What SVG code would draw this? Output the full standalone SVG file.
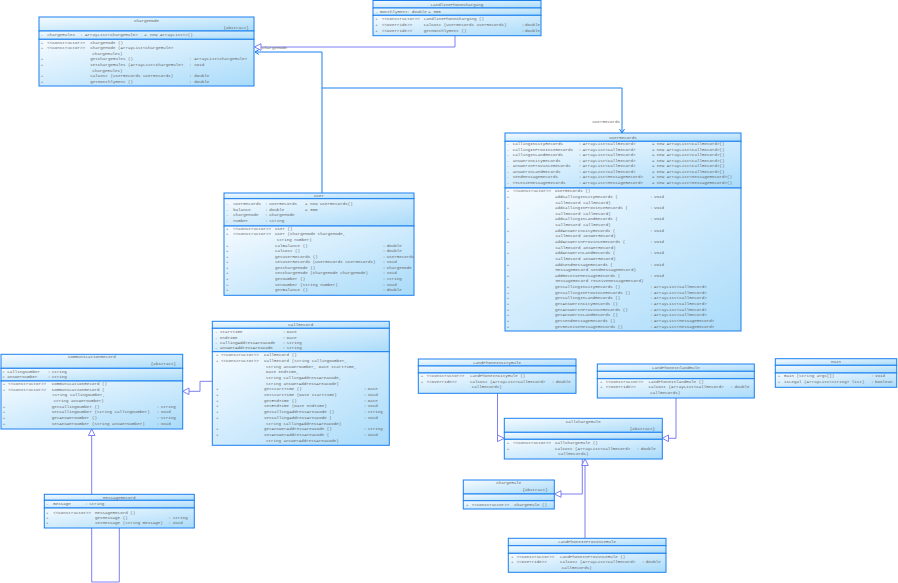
<svg xmlns="http://www.w3.org/2000/svg" width="898" height="583" viewBox="0 0 898 583">
<defs>
<linearGradient id="g" x1="0" y1="0" x2="1" y2="1"><stop offset="0" stop-color="#f6fbff"/><stop offset="1" stop-color="#a9dbfa"/></linearGradient>
</defs>
<style>
.b{fill:url(#g);stroke:#1a80f0;stroke-width:1}
.t{font-family:"Liberation Mono","DejaVu Sans Mono",monospace;font-size:4.2px;fill:#666}
.m{text-anchor:middle}
.e{text-anchor:end}
.gen{fill:none;stroke:#7f7ff5;stroke-width:1}
.tri{fill:#fff;stroke:#7f7ff5;stroke-width:1}
.as{fill:none;stroke:#1a80f0;stroke-width:1}
</style>
<rect width="898" height="583" fill="#fff"/>
<g id="connectors">
<polyline class="gen" points="455,35.7 455,47 261,47"/>
<polygon class="tri" points="254.5,47 261,43.7 261,50.3"/>
<polyline class="as" points="322,193 322,52 255,52"/>
<polyline class="as" points="259,49.5 255,52 259,54.5"/>
<text class="t" x="262" y="49">chargeMode</text>
<polyline class="as" points="322,88 622,88 622,133"/>
<polyline class="as" points="619.5,129 622,133 624.5,129"/>
<text class="t e" x="620" y="122.5">userRecords</text>
<polyline class="gen" points="212.3,381.3 200,381.3 200,391.3 189,391.3"/>
<polygon class="tri" points="182.7,391.3 189,388 189,394.6"/>
<polyline class="gen" points="119.3,528 119.3,582 91.7,582 91.7,435.5"/>
<polygon class="tri" points="91.7,429 88.4,435.5 95,435.5"/>
<polyline class="gen" points="497.5,393.3 497.5,438.3"/>
<polygon class="tri" points="504.3,438.3 497.5,435 497.5,441.6"/>
<polyline class="gen" points="676,398 676,438.3 668.5,438.3"/>
<polygon class="tri" points="662.3,438.3 668.5,435 668.5,441.6"/>
<polyline class="gen" points="582.3,459 582.3,494 561,494"/>
<polygon class="tri" points="554.3,494 561,490.7 561,497.3"/>
<polyline class="gen" points="585,538.3 585,465.5"/>
<polygon class="tri" points="585,459 581.7,465.5 588.3,465.5"/>
</g>
<g id="ChargeMode">
<rect class="b" x="39" y="17" width="215" height="14"/>
<rect class="b" x="39" y="31" width="215" height="8.3"/>
<rect class="b" x="39" y="39.3" width="215" height="46.7"/>
<text class="t m" x="146.5" y="22">ChargeMode</text>
<text class="t e" x="248.7" y="28.5">{abstract}</text>
<text class="t" y="36"><tspan x="40.7">-</tspan><tspan x="47.3">chargeRules</tspan><tspan x="80">:</tspan><tspan x="85">ArrayList&lt;ChargeRule&gt;</tspan><tspan x="144.3">=</tspan><tspan x="150">new ArrayList&lt;&gt;()</tspan></text>
<text class="t" y="43.8"><tspan x="40.7">+</tspan><tspan x="47.3">&lt;&lt;Constructor&gt;&gt;</tspan><tspan x="90.3">ChargeMode ()</tspan></text>
<text class="t" y="49.35"><tspan x="40.7">+</tspan><tspan x="47.3">&lt;&lt;Constructor&gt;&gt;</tspan><tspan x="90.3">ChargeMode (ArrayList&lt;ChargeRule&gt;</tspan></text>
<text class="t" y="54.9"><tspan x="92.3">chargeRules)</tspan></text>
<text class="t" y="60.45"><tspan x="40.7">+</tspan><tspan x="90.3">getChargeRules ()</tspan><tspan x="189">:</tspan><tspan x="194.3">ArrayList&lt;ChargeRule&gt;</tspan></text>
<text class="t" y="66"><tspan x="40.7">+</tspan><tspan x="90.3">setChargeRules (ArrayList&lt;ChargeRule&gt;</tspan><tspan x="189">:</tspan><tspan x="194.3">void</tspan></text>
<text class="t" y="71.55"><tspan x="92.3">chargeRules)</tspan></text>
<text class="t" y="77.1"><tspan x="40.7">+</tspan><tspan x="90.3">calCost (UserRecords userRecords)</tspan><tspan x="189">:</tspan><tspan x="194.3">double</tspan></text>
<text class="t" y="82.65"><tspan x="40.7">+</tspan><tspan x="90.3">getMonthlyRent ()</tspan><tspan x="189">:</tspan><tspan x="194.3">double</tspan></text>
</g>
<g id="LandlinePhoneCharging">
<rect class="b" x="373" y="0.5" width="168" height="7.5"/>
<rect class="b" x="373" y="8" width="168" height="7.3"/>
<rect class="b" x="373" y="15.3" width="168" height="20.4"/>
<text class="t m" x="457" y="5.6">LandlinePhoneCharging</text>
<text class="t" y="13.2"><tspan x="375.3">-</tspan><tspan x="380">monthlyRent</tspan><tspan x="407.3">:</tspan><tspan x="411.7">double</tspan><tspan x="428.3">=</tspan><tspan x="433.3">300</tspan></text>
<text class="t" y="20.2"><tspan x="375.3">+</tspan><tspan x="382">&lt;&lt;Constructor&gt;&gt;</tspan><tspan x="423.7">LandlinePhoneCharging ()</tspan></text>
<text class="t" y="25.8"><tspan x="375.3">+</tspan><tspan x="382">&lt;&lt;Override&gt;&gt;</tspan><tspan x="423.7">calCost (UserRecords userRecords)</tspan><tspan x="521.7">:</tspan><tspan x="525">double</tspan></text>
<text class="t" y="31.5"><tspan x="375.3">+</tspan><tspan x="382">&lt;&lt;Override&gt;&gt;</tspan><tspan x="423.7">getMonthlyRent ()</tspan><tspan x="521.7">:</tspan><tspan x="525">double</tspan></text>
</g>
<g id="UserRecords">
<rect class="b" x="505" y="133" width="236" height="8.3"/>
<rect class="b" x="505" y="141.3" width="236" height="46.7"/>
<rect class="b" x="505" y="188" width="236" height="143"/>
<text class="t m" x="623" y="138.8">UserRecords</text>
<text class="t" y="145.2"><tspan x="506.7">-</tspan><tspan x="512.7">callingInCityRecords</tspan><tspan x="578.7">:</tspan><tspan x="582.7">ArrayList&lt;CallRecord&gt;</tspan><tspan x="652">=</tspan><tspan x="656.7">new ArrayList&lt;CallRecord&gt;()</tspan></text>
<text class="t" y="150.7"><tspan x="506.7">-</tspan><tspan x="512.7">callingInProvinceRecords</tspan><tspan x="578.7">:</tspan><tspan x="582.7">ArrayList&lt;CallRecord&gt;</tspan><tspan x="652">=</tspan><tspan x="656.7">new ArrayList&lt;CallRecord&gt;()</tspan></text>
<text class="t" y="156.2"><tspan x="506.7">-</tspan><tspan x="512.7">callingInLandRecords</tspan><tspan x="578.7">:</tspan><tspan x="582.7">ArrayList&lt;CallRecord&gt;</tspan><tspan x="652">=</tspan><tspan x="656.7">new ArrayList&lt;CallRecord&gt;()</tspan></text>
<text class="t" y="161.7"><tspan x="506.7">-</tspan><tspan x="512.7">answerInCityRecords</tspan><tspan x="578.7">:</tspan><tspan x="582.7">ArrayList&lt;CallRecord&gt;</tspan><tspan x="652">=</tspan><tspan x="656.7">new ArrayList&lt;CallRecord&gt;()</tspan></text>
<text class="t" y="167.2"><tspan x="506.7">-</tspan><tspan x="512.7">answerInProvinceRecords</tspan><tspan x="578.7">:</tspan><tspan x="582.7">ArrayList&lt;CallRecord&gt;</tspan><tspan x="652">=</tspan><tspan x="656.7">new ArrayList&lt;CallRecord&gt;()</tspan></text>
<text class="t" y="172.7"><tspan x="506.7">-</tspan><tspan x="512.7">answerInLandRecords</tspan><tspan x="578.7">:</tspan><tspan x="582.7">ArrayList&lt;CallRecord&gt;</tspan><tspan x="652">=</tspan><tspan x="656.7">new ArrayList&lt;CallRecord&gt;()</tspan></text>
<text class="t" y="178.2"><tspan x="506.7">-</tspan><tspan x="512.7">sendMessageRecords</tspan><tspan x="578.7">:</tspan><tspan x="582.7">ArrayList&lt;MessageRecord&gt;</tspan><tspan x="652">=</tspan><tspan x="656.7">new ArrayList&lt;MessageRecord&gt;()</tspan></text>
<text class="t" y="183.7"><tspan x="506.7">-</tspan><tspan x="512.7">receiveMessageRecords</tspan><tspan x="578.7">:</tspan><tspan x="582.7">ArrayList&lt;MessageRecord&gt;</tspan><tspan x="652">=</tspan><tspan x="656.7">new ArrayList&lt;MessageRecord&gt;()</tspan></text>
<text class="t" y="192.2"><tspan x="506.7">+</tspan><tspan x="513.3">&lt;&lt;Constructor&gt;&gt;</tspan><tspan x="555">UserRecords ()</tspan></text>
<text class="t" y="197.8"><tspan x="506.7">+</tspan><tspan x="555">addCallingInCityRecords (</tspan><tspan x="650">:</tspan><tspan x="654">void</tspan></text>
<text class="t" y="203.5"><tspan x="555.5">CallRecord callRecord)</tspan></text>
<text class="t" y="209.1"><tspan x="506.7">+</tspan><tspan x="555">addCallingInProvinceRecords (</tspan><tspan x="650">:</tspan><tspan x="654">void</tspan></text>
<text class="t" y="214.8"><tspan x="555.5">CallRecord callRecord)</tspan></text>
<text class="t" y="220.4"><tspan x="506.7">+</tspan><tspan x="555">addCallingInLandRecords (</tspan><tspan x="650">:</tspan><tspan x="654">void</tspan></text>
<text class="t" y="226"><tspan x="555.5">CallRecord callRecord)</tspan></text>
<text class="t" y="231.7"><tspan x="506.7">+</tspan><tspan x="555">addAnswerInCityRecords (</tspan><tspan x="650">:</tspan><tspan x="654">void</tspan></text>
<text class="t" y="237.3"><tspan x="555.5">CallRecord answerRecord)</tspan></text>
<text class="t" y="243"><tspan x="506.7">+</tspan><tspan x="555">addAnswerInProvinceRecords (</tspan><tspan x="650">:</tspan><tspan x="654">void</tspan></text>
<text class="t" y="248.6"><tspan x="555.5">CallRecord answerRecord)</tspan></text>
<text class="t" y="254.2"><tspan x="506.7">+</tspan><tspan x="555">addAnswerInLandRecords (</tspan><tspan x="650">:</tspan><tspan x="654">void</tspan></text>
<text class="t" y="259.9"><tspan x="555.5">CallRecord answerRecord)</tspan></text>
<text class="t" y="265.5"><tspan x="506.7">+</tspan><tspan x="555">addSendMessageRecords (</tspan><tspan x="650">:</tspan><tspan x="654">void</tspan></text>
<text class="t" y="271.2"><tspan x="555.5">MessageRecord sendMessageRecord)</tspan></text>
<text class="t" y="276.8"><tspan x="506.7">+</tspan><tspan x="555">addReceiveMessageRecords (</tspan><tspan x="650">:</tspan><tspan x="654">void</tspan></text>
<text class="t" y="282.4"><tspan x="555.5">MessageRecord receiveMessageRecord)</tspan></text>
<text class="t" y="288.1"><tspan x="506.7">+</tspan><tspan x="555">getCallingInCityRecords ()</tspan><tspan x="650">:</tspan><tspan x="654">ArrayList&lt;CallRecord&gt;</tspan></text>
<text class="t" y="293.7"><tspan x="506.7">+</tspan><tspan x="555">getCallingInProvinceRecords ()</tspan><tspan x="650">:</tspan><tspan x="654">ArrayList&lt;CallRecord&gt;</tspan></text>
<text class="t" y="299.4"><tspan x="506.7">+</tspan><tspan x="555">getCallingInLandRecords ()</tspan><tspan x="650">:</tspan><tspan x="654">ArrayList&lt;CallRecord&gt;</tspan></text>
<text class="t" y="305"><tspan x="506.7">+</tspan><tspan x="555">getAnswerInCityRecords ()</tspan><tspan x="650">:</tspan><tspan x="654">ArrayList&lt;CallRecord&gt;</tspan></text>
<text class="t" y="310.6"><tspan x="506.7">+</tspan><tspan x="555">getAnswerInProvinceRecords ()</tspan><tspan x="650">:</tspan><tspan x="654">ArrayList&lt;CallRecord&gt;</tspan></text>
<text class="t" y="316.3"><tspan x="506.7">+</tspan><tspan x="555">getAnswerInLandRecords ()</tspan><tspan x="650">:</tspan><tspan x="654">ArrayList&lt;CallRecord&gt;</tspan></text>
<text class="t" y="321.9"><tspan x="506.7">+</tspan><tspan x="555">getSendMessageRecords ()</tspan><tspan x="650">:</tspan><tspan x="654">ArrayList&lt;MessageRecord&gt;</tspan></text>
<text class="t" y="327.6"><tspan x="506.7">+</tspan><tspan x="555">getReceiveMessageRecords ()</tspan><tspan x="650">:</tspan><tspan x="654">ArrayList&lt;MessageRecord&gt;</tspan></text>
</g>
<g id="User">
<rect class="b" x="224" y="193" width="190" height="5.7"/>
<rect class="b" x="224" y="198.7" width="190" height="27.3"/>
<rect class="b" x="224" y="226" width="190" height="69.3"/>
<text class="t m" x="319" y="197.4">User</text>
<text class="t" y="205.2"><tspan x="226">-</tspan><tspan x="233.3">userRecords</tspan><tspan x="265">:</tspan><tspan x="269.3">UserRecords</tspan><tspan x="305">=</tspan><tspan x="310">new UserRecords()</tspan></text>
<text class="t" y="210.6"><tspan x="226">-</tspan><tspan x="233.3">balance</tspan><tspan x="265">:</tspan><tspan x="269.3">double</tspan><tspan x="305">=</tspan><tspan x="310">300</tspan></text>
<text class="t" y="216.1"><tspan x="226">-</tspan><tspan x="233.3">chargeMode</tspan><tspan x="265">:</tspan><tspan x="269.3">ChargeMode</tspan></text>
<text class="t" y="221.7"><tspan x="226">-</tspan><tspan x="233.3">number</tspan><tspan x="265">:</tspan><tspan x="269.3">String</tspan></text>
<text class="t" y="229.8"><tspan x="226">+</tspan><tspan x="233.3">&lt;&lt;Constructor&gt;&gt;</tspan><tspan x="275">User ()</tspan></text>
<text class="t" y="235.4"><tspan x="226">+</tspan><tspan x="233.3">&lt;&lt;Constructor&gt;&gt;</tspan><tspan x="275">User (ChargeMode chargeMode,</tspan></text>
<text class="t" y="241"><tspan x="276.7">String number)</tspan></text>
<text class="t" y="246.5"><tspan x="226">+</tspan><tspan x="275">calBalance ()</tspan><tspan x="382.7">:</tspan><tspan x="386.7">double</tspan></text>
<text class="t" y="252.1"><tspan x="226">+</tspan><tspan x="275">calCost ()</tspan><tspan x="382.7">:</tspan><tspan x="386.7">double</tspan></text>
<text class="t" y="257.7"><tspan x="226">+</tspan><tspan x="275">getUserRecords ()</tspan><tspan x="382.7">:</tspan><tspan x="386.7">UserRecords</tspan></text>
<text class="t" y="263.3"><tspan x="226">+</tspan><tspan x="275">setUserRecords (UserRecords userRecords)</tspan><tspan x="382.7">:</tspan><tspan x="386.7">void</tspan></text>
<text class="t" y="268.9"><tspan x="226">+</tspan><tspan x="275">getChargeMode ()</tspan><tspan x="382.7">:</tspan><tspan x="386.7">ChargeMode</tspan></text>
<text class="t" y="274.4"><tspan x="226">+</tspan><tspan x="275">setChargeMode (ChargeMode chargeMode)</tspan><tspan x="382.7">:</tspan><tspan x="386.7">void</tspan></text>
<text class="t" y="280"><tspan x="226">+</tspan><tspan x="275">getNumber ()</tspan><tspan x="382.7">:</tspan><tspan x="386.7">String</tspan></text>
<text class="t" y="285.6"><tspan x="226">+</tspan><tspan x="275">setNumber (String number)</tspan><tspan x="382.7">:</tspan><tspan x="386.7">void</tspan></text>
<text class="t" y="291.2"><tspan x="226">+</tspan><tspan x="275">getBalance ()</tspan><tspan x="382.7">:</tspan><tspan x="386.7">double</tspan></text>
</g>
<g id="CallRecord">
<rect class="b" x="212.3" y="321.3" width="177" height="7"/>
<rect class="b" x="212.3" y="328.3" width="177" height="23.4"/>
<rect class="b" x="212.3" y="351.7" width="177" height="93.6"/>
<text class="t m" x="300.8" y="326.3">CallRecord</text>
<text class="t" y="333.2"><tspan x="215">-</tspan><tspan x="220">startTime</tspan><tspan x="282.7">:</tspan><tspan x="286.7">Date</tspan></text>
<text class="t" y="338.5"><tspan x="215">-</tspan><tspan x="220">endTime</tspan><tspan x="282.7">:</tspan><tspan x="286.7">Date</tspan></text>
<text class="t" y="343.8"><tspan x="215">-</tspan><tspan x="220">callingAddressAreaCode</tspan><tspan x="282.7">:</tspan><tspan x="286.7">String</tspan></text>
<text class="t" y="349.3"><tspan x="215">-</tspan><tspan x="220">answerAddressAreaCode</tspan><tspan x="282.7">:</tspan><tspan x="286.7">String</tspan></text>
<text class="t" y="356.2"><tspan x="216">+</tspan><tspan x="221">&lt;&lt;Constructor&gt;&gt;</tspan><tspan x="264">CallRecord ()</tspan></text>
<text class="t" y="361.9"><tspan x="216">+</tspan><tspan x="221">&lt;&lt;Constructor&gt;&gt;</tspan><tspan x="264">CallRecord (String callingNumber,</tspan></text>
<text class="t" y="367.6"><tspan x="266">String answerNumber, Date startTime,</tspan></text>
<text class="t" y="373.3"><tspan x="266">Date endTime,</tspan></text>
<text class="t" y="379"><tspan x="266">String callingAddressAreaCode,</tspan></text>
<text class="t" y="384.7"><tspan x="266">String answerAddressAreaCode)</tspan></text>
<text class="t" y="390.3"><tspan x="216">+</tspan><tspan x="264">getStartTime ()</tspan><tspan x="363.7">:</tspan><tspan x="367.7">Date</tspan></text>
<text class="t" y="396"><tspan x="216">+</tspan><tspan x="264">setStartTime (Date startTime)</tspan><tspan x="363.7">:</tspan><tspan x="367.7">void</tspan></text>
<text class="t" y="401.7"><tspan x="216">+</tspan><tspan x="264">getEndTime ()</tspan><tspan x="363.7">:</tspan><tspan x="367.7">Date</tspan></text>
<text class="t" y="407.4"><tspan x="216">+</tspan><tspan x="264">setEndTime (Date endTime)</tspan><tspan x="363.7">:</tspan><tspan x="367.7">void</tspan></text>
<text class="t" y="413.1"><tspan x="216">+</tspan><tspan x="264">getCallingAddressAreaCode ()</tspan><tspan x="363.7">:</tspan><tspan x="367.7">String</tspan></text>
<text class="t" y="418.8"><tspan x="216">+</tspan><tspan x="264">setCallingAddressAreaCode (</tspan><tspan x="363.7">:</tspan><tspan x="367.7">void</tspan></text>
<text class="t" y="424.5"><tspan x="266">String callingAddressAreaCode)</tspan></text>
<text class="t" y="430.2"><tspan x="216">+</tspan><tspan x="264">getAnswerAddressAreaCode ()</tspan><tspan x="363.7">:</tspan><tspan x="367.7">String</tspan></text>
<text class="t" y="435.9"><tspan x="216">+</tspan><tspan x="264">setAnswerAddressAreaCode (</tspan><tspan x="363.7">:</tspan><tspan x="367.7">void</tspan></text>
<text class="t" y="441.6"><tspan x="266">String answerAddressAreaCode)</tspan></text>
</g>
<g id="CommunicationRecord">
<rect class="b" x="1" y="354.3" width="181.7" height="14"/>
<rect class="b" x="1" y="368.3" width="181.7" height="12.7"/>
<rect class="b" x="1" y="381" width="181.7" height="48"/>
<text class="t m" x="91.8" y="357.6">CommunicationRecord</text>
<text class="t e" x="176" y="365">{abstract}</text>
<text class="t" y="372.5"><tspan x="2.3">#</tspan><tspan x="7.3">callingNumber</tspan><tspan x="47.7">:</tspan><tspan x="51.7">String</tspan></text>
<text class="t" y="377.6"><tspan x="2.3">#</tspan><tspan x="7.3">answerNumber</tspan><tspan x="47.7">:</tspan><tspan x="51.7">String</tspan></text>
<text class="t" y="385.2"><tspan x="2.7">+</tspan><tspan x="8.3">&lt;&lt;Constructor&gt;&gt;</tspan><tspan x="51.7">CommunicationRecord ()</tspan></text>
<text class="t" y="390.8"><tspan x="2.7">+</tspan><tspan x="8.3">&lt;&lt;Constructor&gt;&gt;</tspan><tspan x="51.7">CommunicationRecord (</tspan></text>
<text class="t" y="396.4"><tspan x="52.3">String callingNumber,</tspan></text>
<text class="t" y="402"><tspan x="53.5">String answerNumber)</tspan></text>
<text class="t" y="407.6"><tspan x="2.7">+</tspan><tspan x="51.7">getCallingNumber ()</tspan><tspan x="156.7">:</tspan><tspan x="160.7">String</tspan></text>
<text class="t" y="413.3"><tspan x="2.7">+</tspan><tspan x="51.7">setCallingNumber (String callingNumber)</tspan><tspan x="156.7">:</tspan><tspan x="160.7">void</tspan></text>
<text class="t" y="418.9"><tspan x="2.7">+</tspan><tspan x="51.7">getAnswerNumber ()</tspan><tspan x="156.7">:</tspan><tspan x="160.7">String</tspan></text>
<text class="t" y="424.5"><tspan x="2.7">+</tspan><tspan x="51.7">setAnswerNumber (String answerNumber)</tspan><tspan x="156.7">:</tspan><tspan x="160.7">void</tspan></text>
</g>
<g id="MessageRecord">
<rect class="b" x="44.3" y="494.3" width="150" height="6"/>
<rect class="b" x="44.3" y="500.3" width="150" height="7.7"/>
<rect class="b" x="44.3" y="508" width="150" height="20"/>
<text class="t m" x="119.3" y="498.9">MessageRecord</text>
<text class="t" y="505.4"><tspan x="46">-</tspan><tspan x="53.3">message</tspan><tspan x="85">:</tspan><tspan x="89.3">String</tspan></text>
<text class="t" y="513.5"><tspan x="46">+</tspan><tspan x="53.3">&lt;&lt;Constructor&gt;&gt;</tspan><tspan x="95">MessageRecord ()</tspan></text>
<text class="t" y="518.8"><tspan x="46">+</tspan><tspan x="95">getMessage ()</tspan><tspan x="168.3">:</tspan><tspan x="172.7">String</tspan></text>
<text class="t" y="523.9"><tspan x="46">+</tspan><tspan x="95">setMessage (String message)</tspan><tspan x="168.3">:</tspan><tspan x="172.7">void</tspan></text>
</g>
<g id="LandPhoneInCityRule">
<rect class="b" x="418.3" y="359" width="157.7" height="7"/>
<rect class="b" x="418.3" y="366" width="157.7" height="7"/>
<rect class="b" x="418.3" y="373" width="157.7" height="20.3"/>
<text class="t m" x="497.2" y="363.9">LandPhoneInCityRule</text>
<text class="t" y="377.2"><tspan x="420.7">+</tspan><tspan x="426.7">&lt;&lt;Constructor&gt;&gt;</tspan><tspan x="470">LandPhoneInCityRule ()</tspan></text>
<text class="t" y="382.6"><tspan x="420.7">+</tspan><tspan x="426.7">&lt;&lt;Override&gt;&gt;</tspan><tspan x="470">calCost (ArrayList&lt;CallRecord&gt;</tspan><tspan x="551.7">:</tspan><tspan x="555.7">double</tspan></text>
<text class="t" y="388.3"><tspan x="471.7">callRecords)</tspan></text>
</g>
<g id="LandPhoneInlandRule">
<rect class="b" x="597.3" y="364" width="157" height="7.3"/>
<rect class="b" x="597.3" y="371.3" width="157" height="7.4"/>
<rect class="b" x="597.3" y="378.7" width="157" height="19.3"/>
<text class="t m" x="675.8" y="369.1">LandPhoneInlandRule</text>
<text class="t" y="382.8"><tspan x="600">+</tspan><tspan x="605.7">&lt;&lt;Constructor&gt;&gt;</tspan><tspan x="648.5">LandPhoneInlandRule ()</tspan></text>
<text class="t" y="388.3"><tspan x="600">+</tspan><tspan x="605.7">&lt;&lt;Override&gt;&gt;</tspan><tspan x="648.5">calCost (ArrayList&lt;CallRecord&gt;</tspan><tspan x="730.5">:</tspan><tspan x="734.5">double</tspan></text>
<text class="t" y="393.8"><tspan x="650.2">callRecords)</tspan></text>
</g>
<g id="Main">
<rect class="b" x="775.3" y="358.7" width="121.4" height="6.6"/>
<rect class="b" x="775.3" y="365.3" width="121.4" height="7.7"/>
<rect class="b" x="775.3" y="373" width="121.4" height="14.3"/>
<text class="t m" x="836" y="363.4">Main</text>
<text class="t" y="377.3"><tspan x="777.7">+</tspan><tspan x="784">main (String args[])</tspan><tspan x="871">:</tspan><tspan x="875">void</tspan></text>
<text class="t" y="383.3"><tspan x="777.7">+</tspan><tspan x="784">isLegal (ArrayList&lt;String&gt; list)</tspan><tspan x="871">:</tspan><tspan x="875">boolean</tspan></text>
</g>
<g id="CallChargeRule">
<rect class="b" x="504.3" y="418.3" width="158" height="14"/>
<rect class="b" x="504.3" y="432.3" width="158" height="7"/>
<rect class="b" x="504.3" y="439.3" width="158" height="19.7"/>
<text class="t m" x="583.3" y="422.6">CallChargeRule</text>
<text class="t e" x="655" y="429.8">{abstract}</text>
<text class="t" y="443.8"><tspan x="506.7">+</tspan><tspan x="513.3">&lt;&lt;Constructor&gt;&gt;</tspan><tspan x="555">CallChargeRule ()</tspan></text>
<text class="t" y="450"><tspan x="506.7">+</tspan><tspan x="555">calCost (ArrayList&lt;CallRecord&gt;</tspan><tspan x="636.7">:</tspan><tspan x="640.7">double</tspan></text>
<text class="t" y="455.4"><tspan x="558.3">callRecords)</tspan></text>
</g>
<g id="ChargeRule">
<rect class="b" x="463.3" y="480" width="91" height="14"/>
<rect class="b" x="463.3" y="494" width="91" height="6.7"/>
<rect class="b" x="463.3" y="500.7" width="91" height="8.3"/>
<text class="t m" x="508.8" y="484">ChargeRule</text>
<text class="t e" x="547.7" y="490.6">{abstract}</text>
<text class="t" y="506.2"><tspan x="466">+</tspan><tspan x="471.7">&lt;&lt;Constructor&gt;&gt;</tspan><tspan x="514.3">ChargeRule ()</tspan></text>
</g>
<g id="LandPhoneInProvinceRule">
<rect class="b" x="508.3" y="538.3" width="157.7" height="7.4"/>
<rect class="b" x="508.3" y="545.7" width="157.7" height="7.6"/>
<rect class="b" x="508.3" y="553.3" width="157.7" height="19"/>
<text class="t m" x="587.2" y="543.4">LandPhoneInProvinceRule</text>
<text class="t" y="557.5"><tspan x="511">+</tspan><tspan x="516.7">&lt;&lt;Constructor&gt;&gt;</tspan><tspan x="560">LandPhoneInProvinceRule ()</tspan></text>
<text class="t" y="563.4"><tspan x="511">+</tspan><tspan x="516.7">&lt;&lt;Override&gt;&gt;</tspan><tspan x="560">calCost (ArrayList&lt;CallRecord&gt;</tspan><tspan x="641.7">:</tspan><tspan x="645.7">double</tspan></text>
<text class="t" y="568.8"><tspan x="561.7">callRecords)</tspan></text>
</g>
</svg>
